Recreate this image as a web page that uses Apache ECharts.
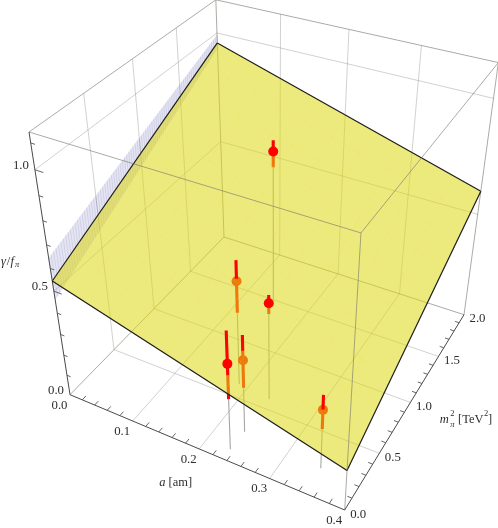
<!DOCTYPE html>
<html>
<head>
<meta charset="utf-8">
<style>html,body{margin:0;padding:0;background:#fff}#c{width:498px;height:528px}</style>
<script src="https://cdn.jsdelivr.net/npm/echarts@6/dist/echarts.min.js"></script>
</head>
<body>
<div id="c"></div>
<script>
// ---------- data (a [am], m_pi^2 [TeV^2], gamma/f_pi) ----------
const pointA  = [0.1440, 0.1866, 0.2350, 0.2345, 0.2356, 0.3470];
const pointM2 = [1.49,   0.618,  0.59,   0.09,   0.26,   0.22];
const pointZ  = [0.727,  0.497,  0.463,  0.410,  0.349,  0.284];
const pointHi = [0.776,  0.591,  0.500,  0.556,  0.463,  0.353];
const pointLo = [0.657,  0.353,  0.414,  0.247,  0.219,  0.193];
const planeAt00 = 0.545, planeSlopeA = -0.8775, planeSlopeM = 0.206;
const aTicks = [0, 0.1, 0.2, 0.3, 0.4];
const mTicks = [0, 0.5, 1.0, 1.5, 2.0];
const zTicks = [0, 0.5, 1.0];
const aMinor = [0.02,0.04,0.06,0.08,0.12,0.14,0.16,0.18,0.22,0.24,0.26,0.28,0.32,0.34,0.36,0.38];
const mMinor = [0.1,0.2,0.3,0.4,0.6,0.7,0.8,0.9,1.1,1.2,1.3,1.4,1.6,1.7,1.8,1.9];
const zMinor = [0.1,0.2,0.3,0.4,0.6,0.7,0.8,0.9,1.1];
const A_MAX = 0.4, M_MAX = 2, Z_MAX = 1.14;

// ---------- camera ----------
const CAM = [
  [235.85, 198.94, -45.84, 70],
  [57.82, -110.16, -284.74, 394.7],
  [-0.11271, 0.20061, -0.167, 1]
];
function project(p) {
  const u = p[0] / A_MAX, v = p[1] / M_MAX, w = p[2] / Z_MAX;
  const d = CAM[2][0]*u + CAM[2][1]*v + CAM[2][2]*w + CAM[2][3];
  return [
    (CAM[0][0]*u + CAM[0][1]*v + CAM[0][2]*w + CAM[0][3]) / d,
    (CAM[1][0]*u + CAM[1][1]*v + CAM[1][2]*w + CAM[1][3]) / d
  ];
}
const planeZ = (a, m) => planeAt00 + planeSlopeA*a + planeSlopeM*m;
const side = p => p[2] - planeZ(p[0], p[1]);

// ---------- primitives, split at the plane ----------
const under = [], planeLayer = [], over = [], labels = [];
function seg(p, q, style, overStyle) {
  const f1 = side(p), f2 = side(q);
  if (f1 >= 0 && f2 >= 0) { over.push({k:'l', p, q, style:overStyle||style}); return; }
  if (f1 <= 0 && f2 <= 0) { under.push({k:'l', p, q, style}); return; }
  const t = f1 / (f1 - f2);
  const c = [p[0]+(q[0]-p[0])*t, p[1]+(q[1]-p[1])*t, p[2]+(q[2]-p[2])*t];
  seg(p, c, style, overStyle); seg(c, q, style, overStyle);
}
const BOX = {stroke:'rgba(120,120,110,0.62)', lineWidth:1};
const GRID = {stroke:'rgba(120,120,110,0.34)', lineWidth:1};
const AXIS = {stroke:'#4a4a4a', lineWidth:1};
const TICK = {stroke:'#555555', lineWidth:0.9};

// lavender mesh strip along a = 0
const bandUp = m => 0.10 - 0.0325*m, bandDn = m => 0.085 - 0.03*m;
under.push({k:'p', pts:[[0,0,planeZ(0,0)+bandUp(0)],[0,2,planeZ(0,2)+bandUp(2)],[0,2,planeZ(0,2)-bandDn(2)],[0,0,planeZ(0,0)-bandDn(0)]],
  style:{fill:'rgba(212,212,236,0.6)'}});
for (let i = 0; i <= 80; i++) {
  const m = i * 0.025;
  under.push({k:'l', p:[0,m,planeZ(0,m)+bandUp(m)], q:[0,m,planeZ(0,m)-bandDn(m)],
    style:{stroke:'rgba(120,120,165,0.24)', lineWidth:0.8}});
}

// face grids
aTicks.slice(1,4).forEach(a => {
  seg([a,0,0],[a,2,0],GRID);
  seg([a,2,0],[a,2,Z_MAX],GRID);
});
mTicks.slice(1,4).forEach(m => {
  seg([0,m,0],[0.4,m,0],GRID);
  seg([0,m,0],[0,m,Z_MAX],GRID);
});
zTicks.slice(1).forEach(z => {
  seg([0,0,z],[0,2,z],GRID);
  seg([0,2,z],[0.4,2,z],GRID);
});

// box edges
[[[0,0,Z_MAX],[0.4,0,Z_MAX]],[[0.4,0,Z_MAX],[0.4,2,Z_MAX]],[[0.4,2,Z_MAX],[0,2,Z_MAX]],[[0,2,Z_MAX],[0,0,Z_MAX]],
 [[0.4,0,0],[0.4,0,Z_MAX]],[[0.4,2,0],[0.4,2,Z_MAX]],[[0,2,0],[0,2,Z_MAX]],
 [[0,0,0],[0,2,0]],[[0,2,0],[0.4,2,0]]].forEach(e => seg(e[0],e[1],BOX));

// axes and ticks
seg([0,0,0],[0,0,Z_MAX],AXIS);
seg([0,0,0],[0.4,0,0],AXIS);
seg([0.4,0,0],[0.4,2,0],AXIS);
aMinor.forEach(a => seg([a,0,0],[a,0.04,0],TICK));
mMinor.forEach(m => seg([0.4,m,0],[0.394,m,0],TICK));
zMinor.forEach(z => seg([0,0,z],[0.006,0,z],TICK));
zTicks.slice(1).forEach(z => seg([0,0,z],[0.012,0,z],TICK));

// drop lines, error bars, dots
const DROP = {stroke:'#a6a6a6', lineWidth:1.1};
const BAR = {stroke:'#ff0000', lineWidth:3.1};
pointA.forEach((a,i) => {
  const m = pointM2[i];
  seg([a,m,pointZ[i]],[a,m,0],DROP);
});
pointA.forEach((a,i) => {
  const m = pointM2[i];
  seg([a,m,pointLo[i]],[a,m,pointHi[i]],BAR);
});
pointA.forEach((a,i) => {
  const p = [a,pointM2[i],pointZ[i]];
  (side(p) >= 0 ? over : under).push({k:'c', p, r:5, style:{fill:'#ff0000'}});
});

// plane
const planeCorners = [[0,0],[0.4,0],[0.4,2],[0,2]].map(c => [c[0],c[1],planeZ(c[0],c[1])]);
planeLayer.push({k:'p', pts:planeCorners, style:{fill:'rgba(222,217,20,0.553)'}});
for (let i = 1; i < 10; i++) {
  const a = i*0.04, m = i*0.2;
  [[[a,0],[a,2]],[[0,m],[0.4,m]]].forEach(l => {
    planeLayer.push({k:'l', p:[l[0][0],l[0][1],planeZ(l[0][0],l[0][1])], q:[l[1][0],l[1][1],planeZ(l[1][0],l[1][1])],
      style:{stroke:'rgba(226,222,60,0.28)', lineWidth:0.6}});
  });
}
planeCorners.forEach((c,i) => {
  planeLayer.push({k:'l', p:c, q:planeCorners[(i+1)%4], style:{stroke:'#1c1c1c', lineWidth:1.2}});
});

// labels
const SERIF = '"Liberation Serif","Times New Roman",serif';
function txt(x,y,text,size,italic,align) {
  labels.push({k:'t', x, y, text, font:(italic?'italic ':'')+size+'px '+SERIF, align:align||'left'});
}
function tickLabel(world, dx, dy, text) {
  const s = project(world);
  txt(s[0]+dx, s[1]+dy, text, 12.8, false, 'center');
}
zTicks.forEach(z => tickLabel([0,0,z], -14, -4.5, z.toFixed(1)));
aTicks.forEach(a => tickLabel([a,0,0], -10.5, 10.5, a.toFixed(1)));
mTicks.forEach(m => tickLabel([0.4,m,0], 13.5, 4.2, m.toFixed(1)));
txt(159.3,483,'a',12.5,true); txt(168.5,483,'[am]',12.5,false);
txt(439.7,420,'m',12.5,true); txt(450.3,414,'2',8.5,false); txt(450.3,425,'π',8.5,true);
txt(458,420,'[TeV',12.5,false); txt(484,414,'2',8.5,false); txt(488,420,']',12.5,false);
txt(1,262,'γ',12.5,true); txt(6.8,262,'/',12.5,false); txt(10.5,262,'f',12.5,true); txt(15,265,'π',8.5,true);

// ---------- rendering through hidden axes ----------
function renderer(items) {
  return function (params, api) {
    const it = items[params.dataIndex];
    const c = w => api.coord(project(w));
    if (it.k === 'l') {
      const a = c(it.p), b = c(it.q);
      return {type:'line', silent:true, shape:{x1:a[0],y1:a[1],x2:b[0],y2:b[1]}, style:Object.assign({fill:null},it.style)};
    }
    if (it.k === 'p') {
      return {type:'polygon', silent:true, shape:{points:it.pts.map(c)}, style:it.style};
    }
    if (it.k === 'c') {
      const a = c(it.p);
      return {type:'circle', silent:true, shape:{cx:a[0],cy:a[1],r:it.r}, style:it.style};
    }
    const a = api.coord([it.x,it.y]);
    return {type:'text', silent:true, style:{x:a[0],y:a[1],text:it.text,font:it.font,fill:'#2e2e2e',align:it.align,verticalAlign:'middle'}};
  };
}
const layer = items => ({
  type:'custom', coordinateSystem:'cartesian2d', clip:false, silent:true, animation:false,
  renderItem:renderer(items), data:items.map((_,i)=>[i,0])
});
const chart = echarts.init(document.getElementById('c'), null, {renderer:'canvas'});
chart.setOption({
  animation:false,
  backgroundColor:'#ffffff',
  tooltip:{show:false},
  grid:{left:0,right:0,top:0,bottom:0},
  xAxis:{type:'value',min:0,max:498,show:false},
  yAxis:{type:'value',min:0,max:528,inverse:true,show:false},
  series:[layer(under),layer(planeLayer),layer(over),layer(labels)]
});
</script>
</body>
</html>
